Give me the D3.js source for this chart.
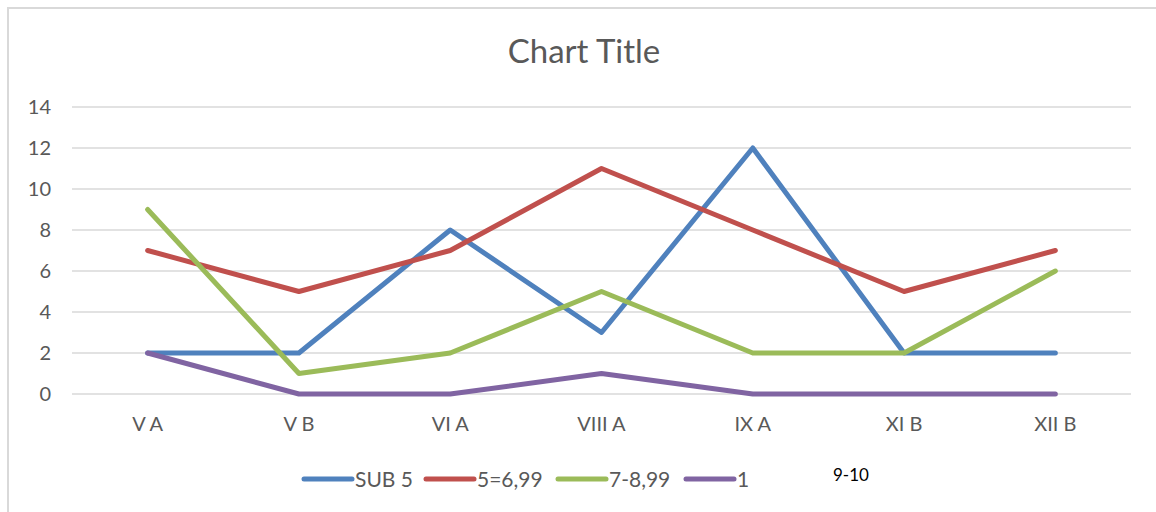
<!DOCTYPE html>
<html>
<head>
<meta charset="utf-8">
<script src="https://cdn.jsdelivr.net/npm/d3@7"></script>
<style>
  body { margin: 0; background: #fff; }
  svg text { font-family: Lato, "Open Sans", sans-serif; }
</style>
</head>
<body>
<script>
const categories = ["V A", "V B", "VI A", "VIII A", "IX A", "XI B", "XII B"];
const seriesNames = ["SUB 5", "5=6,99", "7-8,99", "1"];
const sub5 = [2, 2, 8, 3, 12, 2, 2];
const s5to699 = [7, 5, 7, 11, 8, 5, 7];
const s7to899 = [9, 1, 2, 5, 2, 2, 6];
const s1 = [2, 0, 0, 1, 0, 0, 0];
const yTicks = [0, 2, 4, 6, 8, 10, 12, 14];
const colors = ["#4F81BD", "#C0504D", "#9BBB59", "#8064A2"];

const width = 1156, height = 512;
const series = [sub5, s5to699, s7to899, s1].map((v, i) => ({ name: seriesNames[i], values: v, color: colors[i] }));

const svg = d3.select("body").append("svg")
  .attr("width", width)
  .attr("height", height);

// chart area border (runs off right and bottom edges)
svg.append("rect")
  .attr("x", 8).attr("y", 8)
  .attr("width", width + 20).attr("height", height + 20)
  .attr("fill", "#fff")
  .attr("stroke", "#D9D9D9")
  .attr("stroke-width", 2);

svg.append("text")
  .attr("x", 584).attr("y", 63)
  .attr("text-anchor", "middle")
  .attr("font-size", 33)
  .attr("fill", "#595959")
  .text("Chart Title");

const x = d3.scaleBand().domain(categories).range([72, 1131]);
const y = d3.scaleLinear().domain([0, 14]).range([394, 107]);

// gridlines
svg.append("g")
  .selectAll("line")
  .data(yTicks)
  .join("line")
  .attr("x1", 72).attr("x2", 1131)
  .attr("y1", d => y(d)).attr("y2", d => y(d))
  .attr("stroke", "#D9D9D9")
  .attr("stroke-width", 1.5);

const yAxis = svg.append("g")
  .attr("transform", "translate(72,0)")
  .call(d3.axisLeft(y).tickValues(yTicks).tickSize(0).tickPadding(21));
yAxis.select(".domain").remove();
yAxis.selectAll("text").attr("font-size", 20).attr("fill", "#595959").attr("font-family", "Lato, sans-serif");

const xAxis = svg.append("g")
  .attr("transform", "translate(0,394)")
  .call(d3.axisBottom(x).tickSize(0).tickPadding(23));
xAxis.select(".domain").remove();
xAxis.selectAll("text").attr("font-size", 20).attr("fill", "#595959").attr("font-family", "Lato, sans-serif");

const line = d3.line()
  .x((d, i) => x(categories[i]) + x.bandwidth() / 2)
  .y(d => y(d));

svg.append("g")
  .selectAll("path")
  .data(series)
  .join("path")
  .attr("d", d => line(d.values))
  .attr("fill", "none")
  .attr("stroke", d => d.color)
  .attr("stroke-width", 5)
  .attr("stroke-linejoin", "round")
  .attr("stroke-linecap", "round");

// legend
const legendX = [304, 426, 558, 686];
const legend = svg.append("g")
  .selectAll("g")
  .data(series)
  .join("g")
  .attr("transform", (d, i) => `translate(${legendX[i]},479)`);
legend.append("line")
  .attr("x1", 0).attr("x2", 48)
  .attr("stroke", d => d.color)
  .attr("stroke-width", 5)
  .attr("stroke-linecap", "round");
legend.append("text")
  .attr("x", 51).attr("y", 8)
  .attr("font-size", 21)
  .attr("fill", "#595959")
  .text(d => d.name);

svg.append("text")
  .attr("x", 833).attr("y", 481)
  .attr("font-size", 17)
  .attr("fill", "#000")
  .attr("font-family", "Open Sans, sans-serif")
  .text("9-10");
</script>
</body>
</html>
